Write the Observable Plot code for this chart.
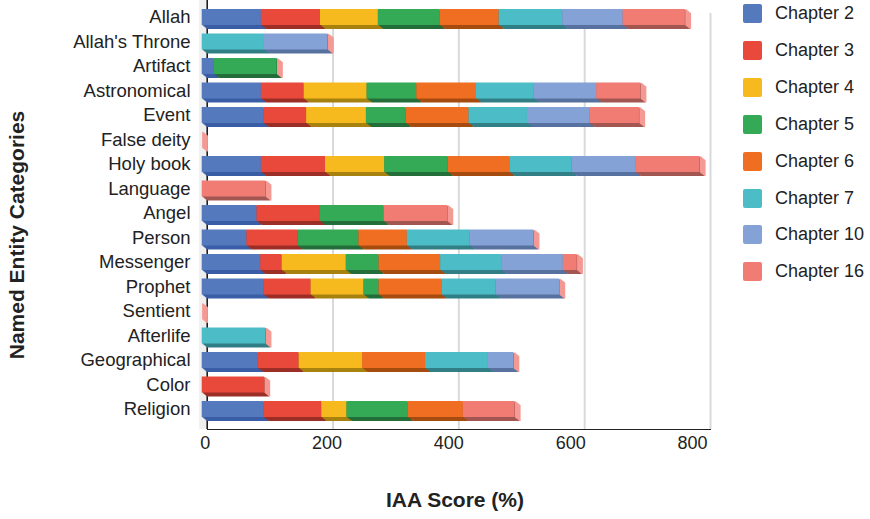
<!DOCTYPE html>
<html><head><meta charset="utf-8">
<script src="https://cdn.jsdelivr.net/npm/d3@7"></script>
<script src="https://cdn.jsdelivr.net/npm/@observablehq/plot@0.6"></script>
<style>
body{margin:0;background:#fff;font-family:"Liberation Sans",Arial,sans-serif;}
#wrap{position:relative;width:870px;height:519px;overflow:hidden;}
#wrap svg{position:absolute;left:0;top:0;}
.xtitle{position:absolute;left:455px;top:489px;transform:translateX(-50%);font-weight:bold;font-size:21px;line-height:21px;color:#222;white-space:nowrap;}
.ytitle{position:absolute;left:16px;top:235px;transform:translate(-50%,-50%) rotate(-90deg);font-weight:bold;font-size:21px;line-height:21px;color:#222;white-space:nowrap;}
.leg{position:absolute;left:743px;height:19px;display:flex;align-items:center;font-size:18px;color:#222;white-space:nowrap;}
.leg span.sw{display:inline-block;width:19px;height:19px;border-radius:2px;margin-right:13px;}
</style></head><body><div id="wrap"></div>
<script>
const categories = ["Allah","Allah's Throne","Artifact","Astronomical","Event","False deity","Holy book","Language","Angel","Person","Messenger","Prophet","Sentient","Afterlife","Geographical","Color","Religion"];
const chapters = ["Chapter 2","Chapter 3","Chapter 4","Chapter 5","Chapter 6","Chapter 7","Chapter 10","Chapter 16"];
const ch2  = [94, 0, 19, 94, 98, 0, 94, 0, 87, 71, 93, 98, 0, 0, 89, 0, 98];
const ch3  = [94, 0, 0, 68, 68, 0, 102, 0, 101, 81, 34, 75, 0, 0, 65, 99, 92];
const ch4  = [92, 0, 0, 100, 95, 0, 94, 0, 0, 0, 102, 84, 0, 0, 101, 0, 40];
const ch5  = [98, 0, 100, 79, 63, 0, 101, 0, 101, 97, 52, 24, 0, 0, 0, 0, 97];
const ch6  = [94, 0, 0, 95, 100, 0, 98, 0, 0, 77, 98, 100, 0, 0, 100, 0, 88];
const ch7  = [101, 99, 0, 92, 93, 0, 99, 0, 0, 100, 97, 86, 0, 101, 100, 0, 0];
const ch10 = [96, 101, 0, 99, 99, 0, 101, 0, 0, 101, 98, 101, 0, 0, 40, 0, 0];
const ch16 = [99, 0, 0, 70, 79, 0, 102, 101, 101, 0, 22, 0, 0, 0, 0, 0, 82];
const xTicks = [0, 200, 400, 600, 800];
const colors = ["#5479bd","#e8493b","#f6ba1f","#35aa56","#ef6e22","#4cbcc6","#85a2d6","#f07c74"];
const darks  = ["#3a5ea6","#9c2f27","#a8820f","#246e3a","#a64c10","#327f86","#5872a0","#a35752"];
const sideColor = "#f59a94";

const series = [ch2, ch3, ch4, ch5, ch6, ch7, ch10, ch16];
const segs = [];
const totals = [];
categories.forEach((c, i) => {
  let acc = 0;
  series.forEach((s, j) => {
    const v = s[i];
    if (v > 0) segs.push({cat: c, chapter: chapters[j], x1: acc, x2: acc + v, fill: colors[j], dark: darks[j]});
    acc += v;
  });
  totals.push({cat: c, total: acc});
});

const inset = {insetTop: 4.25, insetBottom: 4.25};
const marks = [];
marks.push(Plot.ruleX([0], {stroke: "#efefef", strokeWidth: 8, dx: -4}));
marks.push(Plot.ruleX(xTicks.slice(1), {stroke: "#d9d9d9", strokeWidth: 2, insetTop: 13}));
marks.push(Plot.ruleX([0], {stroke: "#111", strokeWidth: 1.5}));
const steps = [1, 0.8, 0.6, 0.4, 0.2];
for (const t of steps) {
  marks.push(Plot.rectX(segs, {y: "cat", x1: "x1", x2: "x2", fill: "dark", dx: -5 + 5 * t, dy: 4 * t, ...inset}));
}
for (const t of [1, 0.9, 0.8, 0.7, 0.6, 0.5, 0.4, 0.3, 0.2, 0.1]) {
  marks.push(Plot.rectX(totals, {y: "cat", x1: "total", x2: "total", insetRight: -1.2, fill: sideColor, dx: -5 + 5 * t, dy: 4 * t, ...inset}));
}
marks.push(Plot.rectX(segs, {y: "cat", x1: "x1", x2: "x2", fill: "fill", dx: -5, ...inset}));
// tick labels sit on the front plane of the 3D chart, slightly left of the gridlines
for (const t of xTicks) {
  marks.push(Plot.text([t], {x: d => d, text: d => String(d), frameAnchor: "bottom", dy: 19, dx: -2 - 0.02 * t, fill: "#222", fontSize: 18}));
}

const chart = Plot.plot({
  width: 870,
  height: 519,
  marginLeft: 207,
  marginRight: 160,
  marginTop: 0,
  marginBottom: 90,
  style: {fontSize: "18.5px", fontFamily: "'Liberation Sans', Arial, sans-serif", color: "#222", background: "transparent"},
  color: {type: "identity"},
  x: {domain: [0, 800], range: [206.7, 710], ticks: xTicks, tickSize: 0, tickFormat: () => "", label: null, line: true},
  y: {domain: categories, range: [-3, 429], paddingInner: 0, paddingOuter: 0.316, round: false, tickSize: 0, tickPadding: 17, label: null},
  marks
});
const wrap = document.getElementById("wrap");
wrap.appendChild(chart);

const xt = document.createElement("div"); xt.className = "xtitle"; xt.textContent = "IAA Score (%)"; wrap.appendChild(xt);
const yt = document.createElement("div"); yt.className = "ytitle"; yt.textContent = "Named Entity Categories"; wrap.appendChild(yt);
chapters.forEach((c, i) => {
  const d = document.createElement("div");
  d.className = "leg";
  d.style.top = (4 + 36.9 * i) + "px";
  const sw = document.createElement("span"); sw.className = "sw"; sw.style.background = colors[i];
  d.appendChild(sw);
  d.appendChild(document.createTextNode(c));
  wrap.appendChild(d);
});
</script></body></html>
